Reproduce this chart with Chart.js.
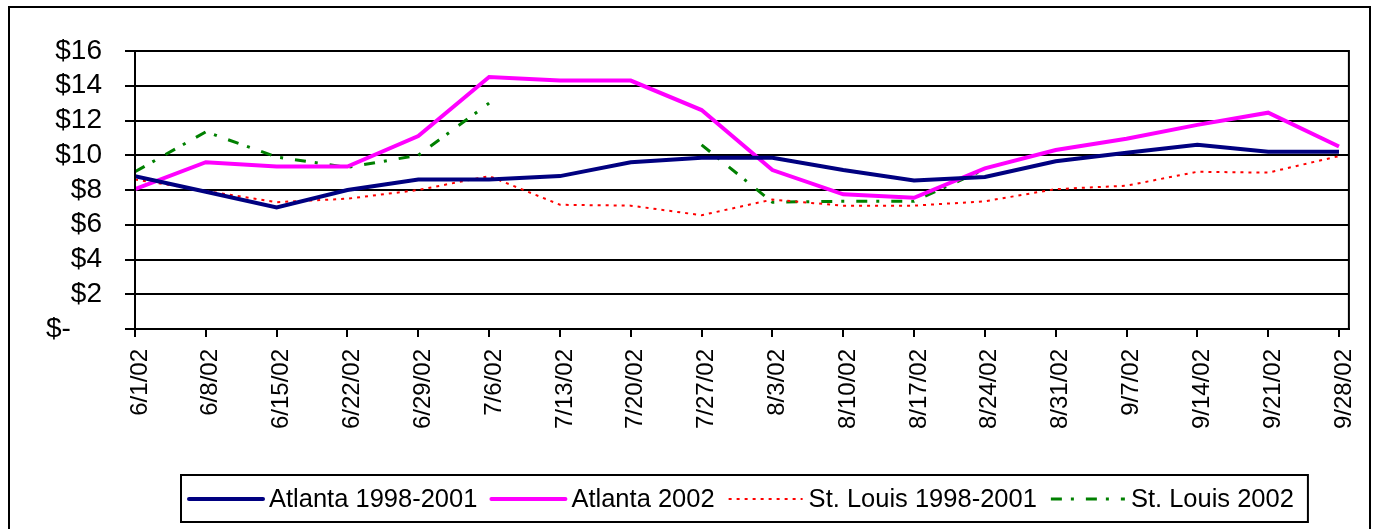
<!DOCTYPE html>
<html>
<head>
<meta charset="utf-8">
<script src="https://cdn.jsdelivr.net/npm/chart.js@4.4.1/dist/chart.umd.min.js"></script>
<style>
    html, body { margin: 0; padding: 0; background: #fff; }
    #wrap { position: relative; width: 1380px; height: 529px; }
</style>
</head>
<body>
<div id="wrap"><canvas id="priceChart" width="1380" height="529"></canvas></div>
<script>
// ── Data (weekly prices) ──────────────────────────────────────────────────
const WEEKS = ['6/1/02', '6/8/02', '6/15/02', '6/22/02', '6/29/02', '7/6/02',
               '7/13/02', '7/20/02', '7/27/02', '8/3/02', '8/10/02', '8/17/02',
               '8/24/02', '8/31/02', '9/7/02', '9/14/02', '9/21/02', '9/28/02'];

const ATL_AVG  = [8.8, 7.9, 7.0, 8.0, 8.6, 8.6, 8.8, 9.6, 9.85, 9.85, 9.15, 8.55, 8.75, 9.65, 10.15, 10.6, 10.2, 10.2];
const ATL_2002 = [8.05, 9.6, 9.35, 9.35, 11.1, 14.5, 14.3, 14.3, 12.6, 9.15, 7.75, 7.55, 9.25, 10.3, 10.95, 11.75, 12.45, 10.5];
const STL_AVG  = [8.6, 7.95, 7.3, 7.5, 8.0, 8.8, 7.15, 7.1, 6.55, 7.45, 7.1, 7.1, 7.35, 8.05, 8.25, 9.05, 9.0, 9.95];
const STL_2002 = [9.05, 11.35, 9.9, 9.3, 10.0, 13.0, null, null, 10.6, 7.3, 7.35, 7.35, 9.2, null, null, null, null, null];

const Y_MAX  = 16;
const Y_STEP = 2;

(function () {
    'use strict';

    const FONT = '"Liberation Sans", Arial, sans-serif';
    Chart.defaults.font.family = FONT;
    Chart.defaults.color       = '#000';

    const pts = arr => arr.map((v, i) => ({ x: i, y: v }));

    // ── Frames + boxed legend (Excel style) ───────────────────────────────
    const LEG = { font: 25.5, centerY: 499, sample: 74, textGap: 6, itemGap: 14, padL: 8, padR: 14, h: 47 };

    const frames = {
        id: 'frames',
        beforeDraw(chart) {
            const ctx = chart.ctx;
            ctx.save();
            ctx.strokeStyle = '#000';
            ctx.lineWidth = 2;
            ctx.strokeRect(9, 7, 1361, 560);
            ctx.restore();
        },
        afterDraw(chart) {
            const ctx = chart.ctx;
            const a = chart.chartArea;
            ctx.save();
            ctx.strokeStyle = '#000';
            ctx.lineWidth = 2;
            ctx.strokeRect(a.left, a.top, a.right - a.left, a.bottom - a.top);

            // legend, centred under the plot area
            ctx.font = LEG.font + 'px ' + FONT;
            const sets = chart.data.datasets;
            const widths = sets.map(ds => LEG.sample + LEG.textGap + ctx.measureText(ds.label).width);
            const total = widths.reduce((s, w) => s + w, 0) + LEG.itemGap * (sets.length - 1);
            let x = Math.round((a.left + a.right) / 2 - total / 2);
            const y = LEG.centerY;

            ctx.strokeRect(x - LEG.padL, y - 24, total + LEG.padL + LEG.padR, LEG.h);

            sets.forEach((ds, i) => {
                ctx.save();
                ctx.strokeStyle = ds.borderColor;
                ctx.lineWidth = ds.borderWidth;
                ctx.setLineDash(ds.borderDash || []);
                ctx.lineCap = ds.borderDash ? 'butt' : 'round';
                ctx.beginPath();
                ctx.moveTo(x, y);
                ctx.lineTo(x + LEG.sample, y);
                ctx.stroke();
                ctx.restore();

                ctx.fillStyle = '#000';
                ctx.textBaseline = 'middle';
                ctx.textAlign = 'left';
                ctx.fillText(ds.label, x + LEG.sample + LEG.textGap, y + 1);
                x += widths[i] + LEG.itemGap;
            });
            ctx.restore();
        }
    };

    new Chart(document.getElementById('priceChart'), {
        type: 'line',
        data: {
            datasets: [{
                label:       'Atlanta 1998-2001',
                data:        pts(ATL_AVG),
                borderColor: '#000080',
                borderWidth: 4,
            }, {
                label:       'Atlanta 2002',
                data:        pts(ATL_2002),
                borderColor: '#FF00FF',
                borderWidth: 4,
            }, {
                label:       'St. Louis 1998-2001',
                data:        pts(STL_AVG),
                borderColor: '#FF0000',
                borderWidth: 2,
                borderDash:  [3, 5],
            }, {
                label:       'St. Louis 2002',
                data:        pts(STL_2002),
                borderColor: '#008000',
                borderWidth: 3,
                borderDash:  [11, 9, 3, 12],
            }]
        },
        options: {
            responsive: false,
            animation:  false,
            spanGaps:   false,
            elements: {
                line:  { tension: 0, fill: false, borderCapStyle: 'butt' },
                point: { radius: 0, hoverRadius: 0 },
            },
            layout: { padding: { top: 51, right: 27, left: 0, bottom: 52 } },
            plugins: {
                tooltip: { enabled: false },
                legend:  { display: false },
            },
            scales: {
                x: {
                    type: 'linear',
                    min:  0,
                    max:  WEEKS.length - 1 + 0.14,
                    afterFit: s => { s.height = 148; },
                    grid:   { drawOnChartArea: false, color: '#000', lineWidth: 2, tickLength: 8 },
                    border: { color: '#000', width: 2 },
                    ticks: {
                        stepSize:      1,
                        autoSkip:      false,
                        includeBounds: false,
                        minRotation:   90,
                        maxRotation:   90,
                        padding:       12,
                        labelOffset:   5,
                        font:          { size: 24 },
                        callback: v => WEEKS[Math.round(v)] || '',
                    }
                },
                y: {
                    min: 0,
                    max: Y_MAX,
                    afterFit: s => { s.width = 135; },
                    grid:   { color: '#000', lineWidth: 2, tickLength: 10 },
                    border: { color: '#000', width: 2 },
                    ticks: {
                        stepSize: Y_STEP,
                        autoSkip: false,
                        padding:  23,
                        font:     { size: 28 },
                        callback: v => v === 0 ? '$-    ' : '$' + v,
                    }
                }
            }
        },
        plugins: [frames]
    });
})();
</script>
</body>
</html>
